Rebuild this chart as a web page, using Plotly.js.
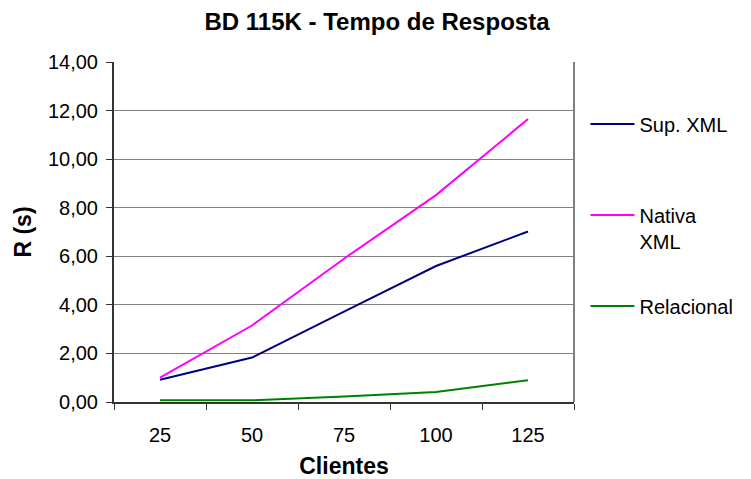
<!DOCTYPE html>
<html>
<head>
<meta charset="utf-8">
<script src="https://cdn.plot.ly/plotly-3.0.1.min.js"></script>
<style>html,body{margin:0;padding:0;background:#fff;}#chart{width:751px;height:479px;}</style>
</head>
<body>
<div id="chart"></div>
<script>
var clientes = ['25', '50', '75', '100', '125'];
var supXML = [0.92, 1.83, 3.72, 5.60, 7.02];
var nativaXML = [1.00, 3.15, 5.90, 8.52, 11.65];
var relacional = [0.07, 0.07, 0.23, 0.41, 0.90];
var yTicks = [0, 2, 4, 6, 8, 10, 12, 14];
var seriesNames = ['Sup. XML<br>\u00a0', 'Nativa<br>XML', 'Relacional<br>\u00a0'];

var F = 'Liberation Sans, Arial, sans-serif';
var traces = [
  {x: clientes, y: supXML, name: seriesNames[0], type: 'scatter', mode: 'lines',
   line: {color: '#000080', width: 2}, legendgroup: 'a'},
  {x: clientes, y: nativaXML, name: seriesNames[1], type: 'scatter', mode: 'lines',
   line: {color: '#FF00FF', width: 2}, legendgroup: 'b'},
  {x: clientes, y: relacional, name: seriesNames[2], type: 'scatter', mode: 'lines',
   line: {color: '#008000', width: 2}, legendgroup: 'c'}
];

var layout = {
  width: 751, height: 479,
  margin: {l: 114, r: 175, t: 62, b: 77},
  paper_bgcolor: '#fff', plot_bgcolor: '#fff',
  separators: ',.',
  font: {family: F, size: 20, color: '#000'},
  title: {text: '<b>BD 115K - Tempo de Resposta</b>', font: {family: F, size: 24, color: '#000'},
          x: 0.502, xanchor: 'center', y: 0.955, yanchor: 'middle', xref: 'container'},
  xaxis: {
    type: 'category', range: [-0.5, 4.5], tickson: 'boundaries', ticks: 'outside', ticklen: 6, tickcolor: '#333',
    showline: true, linecolor: '#333', linewidth: 2, showgrid: false, zeroline: false,
    tickfont: {family: F, size: 20}, ticklabelstandoff: 14,
    title: {text: '<b>Clientes</b>', font: {family: F, size: 23}, standoff: 14}
  },
  yaxis: {
    range: [0, 14], tickvals: yTicks, tickformat: '.2f', ticks: 'outside', ticklen: 6, tickcolor: '#333',
    showline: true, linecolor: '#333', linewidth: 2, showgrid: true, gridcolor: '#808080', gridwidth: 1,
    zeroline: false, tickfont: {family: F, size: 20}, ticklabelstandoff: 4,
    title: {text: '<b>R (s)</b>', font: {family: F, size: 23}, standoff: 10}
  },
  showlegend: true,
  legend: {x: 1.025, xanchor: 'left', y: 0.875, yanchor: 'top', valign: 'top',
           tracegroupgap: 36, font: {family: F, size: 20}, bgcolor: 'rgba(0,0,0,0)',
           itemwidth: 44},
  shapes: [
    {type: 'line', xref: 'paper', yref: 'paper', x0: 1, x1: 1, y0: 0, y1: 1,
     line: {color: '#808080', width: 2}}
  ]
};

Plotly.newPlot('chart', traces, layout, {displayModeBar: false, staticPlot: true});
</script>
</body>
</html>
